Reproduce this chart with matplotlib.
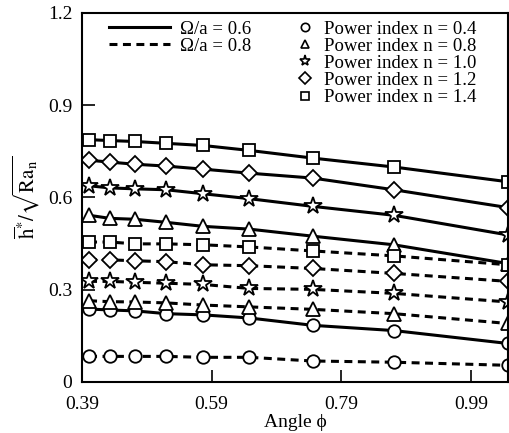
import numpy as np
import matplotlib
matplotlib.use("Agg")
import matplotlib.pyplot as plt
from matplotlib.lines import Line2D

plt.rcParams['font.family'] = ['Liberation Serif', 'DejaVu Serif']
plt.rcParams['mathtext.fontset'] = 'stix'

# angle positions of the markers (rad)
phi = [0.401, 0.433, 0.472, 0.520, 0.577, 0.648, 0.746, 0.871, 1.047]

# Omega/a = 0.6 (solid)
s_n04 = [0.237, 0.234, 0.231, 0.222, 0.218, 0.208, 0.184, 0.167, 0.125]
s_n08 = [0.542, 0.532, 0.529, 0.519, 0.506, 0.497, 0.474, 0.446, 0.385]
s_n10 = [0.638, 0.631, 0.628, 0.625, 0.612, 0.596, 0.571, 0.542, 0.478]
s_n12 = [0.721, 0.715, 0.708, 0.702, 0.692, 0.679, 0.663, 0.625, 0.567]
s_n14 = [0.788, 0.785, 0.782, 0.776, 0.769, 0.753, 0.728, 0.699, 0.651]

# Omega/a = 0.8 (dashed)
d_n04 = [0.083, 0.083, 0.083, 0.083, 0.080, 0.080, 0.068, 0.064, 0.054]
d_n08 = [0.264, 0.261, 0.260, 0.257, 0.250, 0.244, 0.236, 0.222, 0.190]
d_n10 = [0.327, 0.327, 0.324, 0.321, 0.317, 0.304, 0.301, 0.288, 0.260]
d_n12 = [0.397, 0.397, 0.394, 0.391, 0.381, 0.378, 0.369, 0.353, 0.327]
d_n14 = [0.455, 0.455, 0.449, 0.449, 0.446, 0.439, 0.426, 0.410, 0.381]

markers = ['o', '^', '*', 'D', 's']
msizes = [9, 10, 13, 8, 9]
n_labels = ['Power index n = 0.4', 'Power index n = 0.8', 'Power index n = 1.0',
            'Power index n = 1.2', 'Power index n = 1.4']

fig = plt.figure(figsize=(5.09, 4.33), dpi=100)
ax = fig.add_axes([0.161, 0.118, 0.837, 0.852])

solid = [s_n04, s_n08, s_n10, s_n12, s_n14]
dashed = [d_n04, d_n08, d_n10, d_n12, d_n14]
for i in range(5):
    ax.plot(phi, solid[i], '-', color='black', lw=2.2, marker=markers[i],
            ms=msizes[i], mfc='white', mec='black', mew=1.3)
    ax.plot(phi, dashed[i], '--', color='black', lw=2.2, dashes=(2.6, 1.8),
            marker=markers[i], ms=msizes[i], mfc='white', mec='black', mew=1.3)

ax.set_xlim(0.39, 1.047)
ax.set_ylim(0, 1.2)
ax.set_xticks([0.39, 0.59, 0.79, 0.99])
ax.set_xticklabels(['0.39', '0.59', '0.79', '0.99'])
ax.set_yticks([0, 0.3, 0.6, 0.9, 1.2])
ax.set_yticklabels(['0', '0.3', '0.6', '0.9', '1.2'])
ax.tick_params(direction='in', length=9, width=1.2, labelsize=14)
ax.tick_params(axis='x', pad=10)
ax.tick_params(axis='y', pad=7)
for sp in ax.spines.values():
    sp.set_linewidth(1.5)

ax.set_xlabel('Angle \u03d5', fontsize=14, labelpad=1)
ax.set_ylabel(r'$\overline{\mathrm{h}}^{*}/\sqrt{\mathrm{Ra_n}}$', fontsize=15, labelpad=4)

h1 = [Line2D([], [], color='black', lw=2.2, ls='-'),
      Line2D([], [], color='black', lw=2.2, ls='--', dashes=(2.6, 1.8))]
leg1 = ax.legend(h1, ['\u03a9/a = 0.6', '\u03a9/a = 0.8'], loc='upper left',
                 bbox_to_anchor=(0.045, 1.0), frameon=False, fontsize=13.5,
                 handlelength=3.3, handletextpad=0.5, labelspacing=0.0,
                 borderaxespad=0.2, borderpad=0.2)
ax.add_artist(leg1)
h2 = [Line2D([], [], ls='none', marker=m, ms=6 if m != '*' else 8,
             mfc='white', mec='black', mew=1.2) for m in markers]
ax.legend(h2, n_labels, loc='upper left', bbox_to_anchor=(0.485, 1.0),
          frameon=False, fontsize=13.5, handlelength=1.0, handletextpad=0.5,
          labelspacing=0.0, borderaxespad=0.2, borderpad=0.2)

fig.savefig('out.png', dpi=100)
